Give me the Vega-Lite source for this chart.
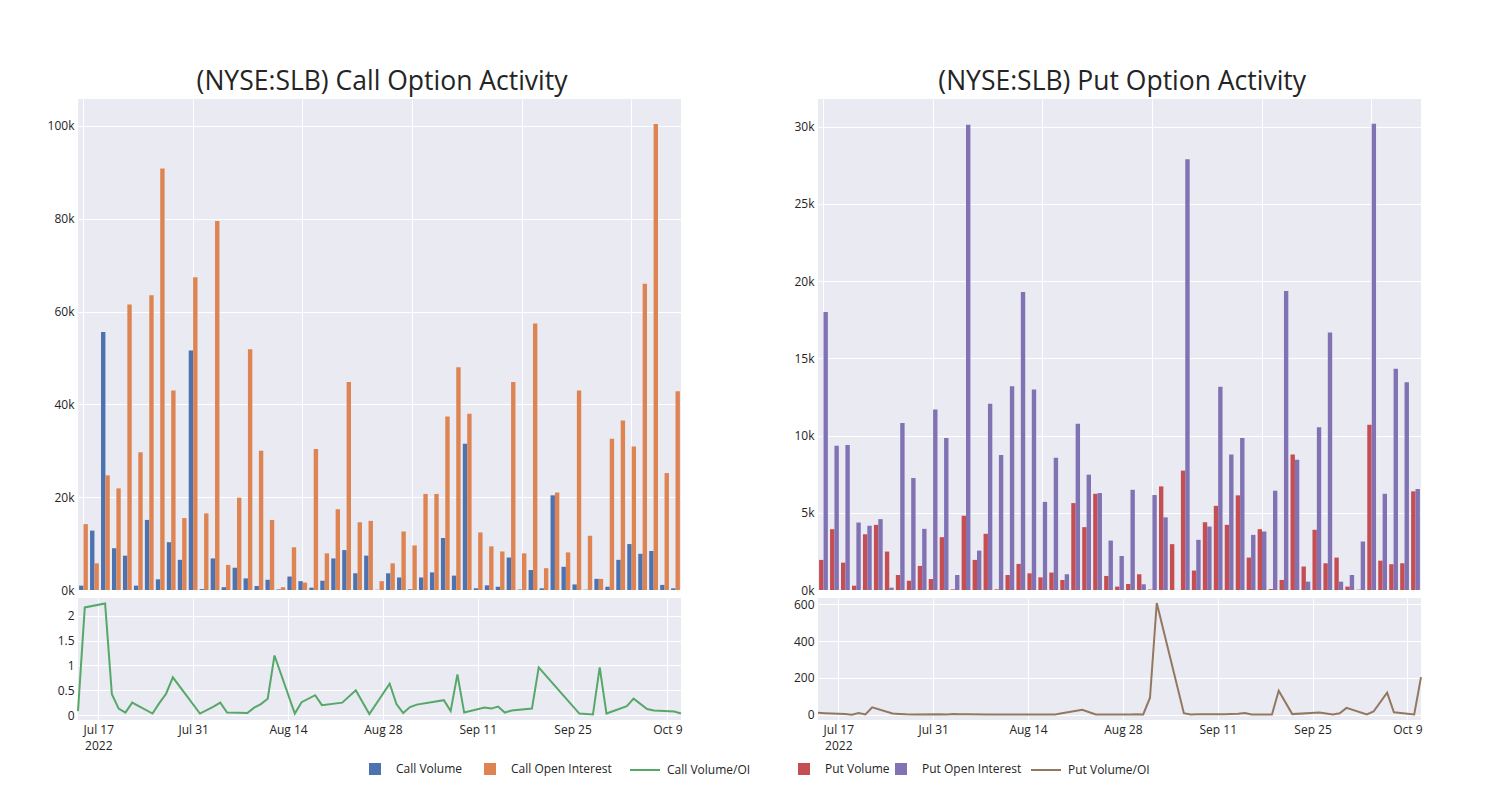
{
  "$schema": "https://vega.github.io/schema/vega-lite/v6.json",
  "background": "white",
  "padding": {"left": 47, "top": 68, "right": 0, "bottom": 0},
  "data": {"values": [
    {"date":"2022-07-14","t":"2022-07-14","Call Volume":940,"Call Open Interest":14200,"cr":0.08,"Put Volume":1950,"Put Open Interest":18000,"pr":10},
    {"date":"2022-07-15","t":"2022-07-15","Call Volume":12800,"Call Open Interest":5750,"cr":2.17,"Put Volume":3940,"Put Open Interest":9350,"pr":8},
    {"date":"2022-07-18","t":"2022-07-18","Call Volume":55600,"Call Open Interest":24700,"cr":2.25,"Put Volume":1770,"Put Open Interest":9390,"pr":3},
    {"date":"2022-07-19","t":"2022-07-19","Call Volume":9000,"Call Open Interest":21900,"cr":0.42,"Put Volume":280,"Put Open Interest":4370,"pr":0},
    {"date":"2022-07-20","t":"2022-07-20","Call Volume":7400,"Call Open Interest":61500,"cr":0.13,"Put Volume":3610,"Put Open Interest":4160,"pr":9},
    {"date":"2022-07-21","t":"2022-07-21","Call Volume":940,"Call Open Interest":29700,"cr":0.05,"Put Volume":4220,"Put Open Interest":4590,"pr":1},
    {"date":"2022-07-22","t":"2022-07-22","Call Volume":15100,"Call Open Interest":63500,"cr":0.25,"Put Volume":2490,"Put Open Interest":150,"pr":40},
    {"date":"2022-07-25","t":"2022-07-25","Call Volume":2300,"Call Open Interest":90800,"cr":0.03,"Put Volume":970,"Put Open Interest":10820,"pr":6},
    {"date":"2022-07-26","t":"2022-07-26","Call Volume":10300,"Call Open Interest":43000,"cr":0.24,"Put Volume":600,"Put Open Interest":7250,"pr":4},
    {"date":"2022-07-27","t":"2022-07-27","Call Volume":6500,"Call Open Interest":15500,"cr":0.43,"Put Volume":1560,"Put Open Interest":3960,"pr":2},
    {"date":"2022-07-28","t":"2022-07-28","Call Volume":51600,"Call Open Interest":67400,"cr":0.76,"Put Volume":710,"Put Open Interest":11690,"pr":1},
    {"date":"2022-08-01","t":"2022-08-01","Call Volume":200,"Call Open Interest":16500,"cr":0.03,"Put Volume":3420,"Put Open Interest":9850,"pr":2},
    {"date":"2022-08-02","t":"2022-08-02","Call Volume":6800,"Call Open Interest":79500,"cr":0.1,"Put Volume":40,"Put Open Interest":970,"pr":1},
    {"date":"2022-08-03","t":"2022-08-03","Call Volume":600,"Call Open Interest":5400,"cr":0.17,"Put Volume":4810,"Put Open Interest":30130,"pr":3},
    {"date":"2022-08-04","t":"2022-08-04","Call Volume":4800,"Call Open Interest":19900,"cr":0.25,"Put Volume":1950,"Put Open Interest":2550,"pr":2},
    {"date":"2022-08-05","t":"2022-08-05","Call Volume":2500,"Call Open Interest":51900,"cr":0.05,"Put Volume":3640,"Put Open Interest":12060,"pr":2},
    {"date":"2022-08-08","t":"2022-08-08","Call Volume":860,"Call Open Interest":30000,"cr":0.04,"Put Volume":40,"Put Open Interest":8740,"pr":1},
    {"date":"2022-08-09","t":"2022-08-09","Call Volume":2200,"Call Open Interest":15100,"cr":0.15,"Put Volume":970,"Put Open Interest":13200,"pr":1},
    {"date":"2022-08-10","t":"2022-08-10","Call Volume":130,"Call Open Interest":600,"cr":0.22,"Put Volume":1690,"Put Open Interest":19300,"pr":1},
    {"date":"2022-08-11","t":"2022-08-11","Call Volume":2900,"Call Open Interest":9200,"cr":0.33,"Put Volume":1080,"Put Open Interest":12990,"pr":1},
    {"date":"2022-08-12","t":"2022-08-12","Call Volume":1900,"Call Open Interest":1600,"cr":1.2,"Put Volume":820,"Put Open Interest":5710,"pr":1},
    {"date":"2022-08-15","t":"2022-08-15","Call Volume":500,"Call Open Interest":30400,"cr":0.03,"Put Volume":1130,"Put Open Interest":8570,"pr":1},
    {"date":"2022-08-16","t":"2022-08-16","Call Volume":2000,"Call Open Interest":7900,"cr":0.26,"Put Volume":650,"Put Open Interest":1020,"pr":1},
    {"date":"2022-08-18","t":"2022-08-18","Call Volume":6800,"Call Open Interest":17400,"cr":0.4,"Put Volume":5630,"Put Open Interest":10760,"pr":1},
    {"date":"2022-08-19","t":"2022-08-19","Call Volume":8600,"Call Open Interest":44800,"cr":0.2,"Put Volume":4070,"Put Open Interest":7470,"pr":8},
    {"date":"2022-08-22","t":"2022-08-22","Call Volume":3600,"Call Open Interest":14600,"cr":0.25,"Put Volume":6230,"Put Open Interest":6280,"pr":27},
    {"date":"2022-08-24","t":"2022-08-24","Call Volume":7400,"Call Open Interest":14900,"cr":0.5,"Put Volume":910,"Put Open Interest":3200,"pr":1},
    {"date":"2022-08-26","t":"2022-08-26","Call Volume":40,"Call Open Interest":1900,"cr":0.02,"Put Volume":220,"Put Open Interest":2200,"pr":1},
    {"date":"2022-08-29","t":"2022-08-29","Call Volume":3600,"Call Open Interest":5750,"cr":0.63,"Put Volume":390,"Put Open Interest":6490,"pr":1},
    {"date":"2022-08-30","t":"2022-08-30","Call Volume":2700,"Call Open Interest":12600,"cr":0.22,"Put Volume":1020,"Put Open Interest":370,"pr":2},
    {"date":"2022-08-31","t":"2022-08-31","Call Volume":150,"Call Open Interest":9600,"cr":0.04,"Put Volume":30,"Put Open Interest":6150,"pr":1},
    {"date":"2022-09-01","t":"2022-09-01","Call Volume":2700,"Call Open Interest":20700,"cr":0.16,"Put Volume":6710,"Put Open Interest":4700,"pr":92},
    {"date":"2022-09-02","t":"2022-09-02","Call Volume":3800,"Call Open Interest":20700,"cr":0.21,"Put Volume":2970,"Put Open Interest":5,"pr":607},
    {"date":"2022-09-06","t":"2022-09-06","Call Volume":11200,"Call Open Interest":37400,"cr":0.3,"Put Volume":7730,"Put Open Interest":27900,"pr":8},
    {"date":"2022-09-07","t":"2022-09-07","Call Volume":3100,"Call Open Interest":48000,"cr":0.08,"Put Volume":1260,"Put Open Interest":3250,"pr":1},
    {"date":"2022-09-08","t":"2022-09-08","Call Volume":31500,"Call Open Interest":38000,"cr":0.82,"Put Volume":4390,"Put Open Interest":4110,"pr":2},
    {"date":"2022-09-09","t":"2022-09-09","Call Volume":360,"Call Open Interest":12400,"cr":0.05,"Put Volume":5450,"Put Open Interest":13160,"pr":2},
    {"date":"2022-09-12","t":"2022-09-12","Call Volume":1000,"Call Open Interest":9400,"cr":0.15,"Put Volume":4220,"Put Open Interest":8770,"pr":2},
    {"date":"2022-09-13","t":"2022-09-13","Call Volume":700,"Call Open Interest":8300,"cr":0.13,"Put Volume":6130,"Put Open Interest":9850,"pr":4},
    {"date":"2022-09-14","t":"2022-09-14","Call Volume":7000,"Call Open Interest":44800,"cr":0.17,"Put Volume":2100,"Put Open Interest":3570,"pr":5},
    {"date":"2022-09-15","t":"2022-09-15","Call Volume":100,"Call Open Interest":7900,"cr":0.05,"Put Volume":3940,"Put Open Interest":3790,"pr":9},
    {"date":"2022-09-16","t":"2022-09-16","Call Volume":4300,"Call Open Interest":57400,"cr":0.09,"Put Volume":60,"Put Open Interest":6430,"pr":1},
    {"date":"2022-09-19","t":"2022-09-19","Call Volume":360,"Call Open Interest":4700,"cr":0.13,"Put Volume":650,"Put Open Interest":19370,"pr":1},
    {"date":"2022-09-20","t":"2022-09-20","Call Volume":20400,"Call Open Interest":21000,"cr":0.96,"Put Volume":8770,"Put Open Interest":8440,"pr":130},
    {"date":"2022-09-22","t":"2022-09-22","Call Volume":5000,"Call Open Interest":8100,"cr":0.65,"Put Volume":1520,"Put Open Interest":540,"pr":3},
    {"date":"2022-09-26","t":"2022-09-26","Call Volume":1200,"Call Open Interest":43000,"cr":0.03,"Put Volume":3900,"Put Open Interest":10540,"pr":12},
    {"date":"2022-09-28","t":"2022-09-28","Call Volume":50,"Call Open Interest":11700,"cr":0.01,"Put Volume":1730,"Put Open Interest":16670,"pr":1},
    {"date":"2022-09-29","t":"2022-09-29","Call Volume":2400,"Call Open Interest":2400,"cr":0.96,"Put Volume":2100,"Put Open Interest":540,"pr":8},
    {"date":"2022-09-30","t":"2022-09-30","Call Volume":700,"Call Open Interest":32600,"cr":0.03,"Put Volume":220,"Put Open Interest":970,"pr":37},
    {"date":"2022-10-03","t":"2022-10-03","Call Volume":6500,"Call Open Interest":36500,"cr":0.18,"Put Volume":20,"Put Open Interest":3140,"pr":1},
    {"date":"2022-10-04","t":"2022-10-04","Call Volume":9900,"Call Open Interest":30900,"cr":0.33,"Put Volume":10710,"Put Open Interest":30190,"pr":17},
    {"date":"2022-10-06","t":"2022-10-06","Call Volume":7800,"Call Open Interest":66000,"cr":0.12,"Put Volume":1900,"Put Open Interest":6230,"pr":119},
    {"date":"2022-10-07","t":"2022-10-07","Call Volume":8400,"Call Open Interest":100400,"cr":0.09,"Put Volume":1670,"Put Open Interest":14330,"pr":13},
    {"date":"2022-10-10","t":"2022-10-10","Call Volume":1100,"Call Open Interest":25200,"cr":0.07,"Put Volume":1730,"Put Open Interest":13460,"pr":1},
    {"date":"2022-10-11","t":"2022-10-11","Call Volume":360,"Call Open Interest":42800,"cr":0.03,"Put Volume":6390,"Put Open Interest":6540,"pr":204}
  ]},
  "hconcat": [
    {
      "title": {"text": "(NYSE:SLB) Call Option Activity", "dx": 16},
      "spacing": 2,
      "vconcat": [
        {
          "width": 603, "height": 491,
          "transform": [{"fold": ["Call Volume", "Call Open Interest"], "as": ["series", "value"]}],
          "mark": {"type": "bar"},
          "encoding": {
            "x": {"field": "date", "type": "ordinal", "scale": {"paddingInner": 0.2, "paddingOuter": 0.1},
                  "axis": {"labels": false, "grid": true, "bandPosition": 0.5, "title": null,
                           "values": ["2022-07-14","2022-07-28","2022-08-12","2022-08-31","2022-09-15","2022-10-04"]}},
            "xOffset": {"field": "series", "type": "nominal", "scale": {"domain": ["Call Volume", "Call Open Interest"], "paddingInner": 0, "paddingOuter": 0}},
            "y": {"field": "value", "type": "quantitative", "scale": {"domain": [0, 105800], "nice": false},
                  "axis": {"values": [0, 20000, 40000, 60000, 80000, 100000], "format": "~s", "title": null}},
            "color": {"field": "series", "type": "nominal",
              "scale": {"domain": ["Call Volume", "Call Open Interest"], "range": ["#4C72B0", "#DD8452"]},
              "legend": {"orient": "none", "legendX": 290, "legendY": 663, "direction": "horizontal", "columns": 2,
                         "title": null, "symbolType": "square", "symbolSize": 144, "labelOffset": 14, "columnPadding": 20,
                         "labelFont": "Open Sans", "labelFontSize": 12, "labelColor": "#242424", "symbolOpacity": 1}}
          }
        },
        {
          "width": 603, "height": 122,
          "mark": {"type": "line", "strokeWidth": 2},
          "encoding": {
            "x": {"field": "t", "type": "temporal",
                  "scale": {"type": "utc", "domain": [{"year": 2022, "month": 7, "date": 14, "utc": true}, {"year": 2022, "month": 10, "date": 11, "utc": true}]},
                  "axis": {"title": null, "grid": true, "labelFlush": false,
                           "values": [{"year": 2022, "month": 7, "date": 17, "utc": true}, {"year": 2022, "month": 7, "date": 31, "utc": true}, {"year": 2022, "month": 8, "date": 14, "utc": true}, {"year": 2022, "month": 8, "date": 28, "utc": true}, {"year": 2022, "month": 9, "date": 11, "utc": true}, {"year": 2022, "month": 9, "date": 25, "utc": true}, {"year": 2022, "month": 10, "date": 9, "utc": true}],
                           "labelExpr": "utcFormat(datum.value, '%b %d') == 'Jul 17' ? ['Jul 17', '2022'] : utcFormat(datum.value, '%b %-d')"}},
            "y": {"field": "cr", "type": "quantitative", "scale": {"domain": [-0.1, 2.36], "nice": false},
                  "axis": {"values": [0, 0.5, 1, 1.5, 2], "format": "~g", "title": null}},
            "stroke": {"datum": "Call Volume/OI",
              "scale": {"domain": ["Call Volume/OI", "Put Volume/OI"], "range": ["#55A868", "#937860"]},
              "legend": {"orient": "none", "legendX": 551, "legendY": 655, "direction": "horizontal", "columns": 2,
                         "title": null, "symbolType": "stroke", "symbolSize": 900, "symbolStrokeWidth": 2, "labelOffset": 6, "columnPadding": 276,
                         "labelFont": "Open Sans", "labelFontSize": 12, "labelColor": "#242424"}}
          }
        }
      ]
    },
    {
      "title": {"text": "(NYSE:SLB) Put Option Activity", "dx": 13},
      "spacing": 2,
      "vconcat": [
        {
          "width": 603, "height": 491,
          "transform": [{"fold": ["Put Volume", "Put Open Interest"], "as": ["series", "value"]}],
          "mark": {"type": "bar"},
          "encoding": {
            "x": {"field": "date", "type": "ordinal", "scale": {"paddingInner": 0.2, "paddingOuter": 0.1},
                  "axis": {"labels": false, "grid": true, "bandPosition": 0.5, "title": null,
                           "values": ["2022-07-14","2022-07-28","2022-08-12","2022-08-31","2022-09-15","2022-10-04"]}},
            "xOffset": {"field": "series", "type": "nominal", "scale": {"domain": ["Put Volume", "Put Open Interest"], "paddingInner": 0, "paddingOuter": 0}},
            "y": {"field": "value", "type": "quantitative", "scale": {"domain": [0, 31800], "nice": false},
                  "axis": {"values": [0, 5000, 10000, 15000, 20000, 25000, 30000], "format": "~s", "title": null}},
            "fill": {"field": "series", "type": "nominal",
              "scale": {"domain": ["Put Volume", "Put Open Interest"], "range": ["#C44E52", "#8172B3"]},
              "legend": {"orient": "none", "legendX": 719, "legendY": 663, "direction": "horizontal", "columns": 2,
                         "title": null, "symbolType": "square", "symbolSize": 144, "labelOffset": 14, "columnPadding": 4,
                         "labelFont": "Open Sans", "labelFontSize": 12, "labelColor": "#242424", "symbolOpacity": 1}}
          }
        },
        {
          "width": 603, "height": 122,
          "mark": {"type": "line", "strokeWidth": 2},
          "encoding": {
            "x": {"field": "t", "type": "temporal",
                  "scale": {"type": "utc", "domain": [{"year": 2022, "month": 7, "date": 14, "utc": true}, {"year": 2022, "month": 10, "date": 11, "utc": true}]},
                  "axis": {"title": null, "grid": true, "labelFlush": false,
                           "values": [{"year": 2022, "month": 7, "date": 17, "utc": true}, {"year": 2022, "month": 7, "date": 31, "utc": true}, {"year": 2022, "month": 8, "date": 14, "utc": true}, {"year": 2022, "month": 8, "date": 28, "utc": true}, {"year": 2022, "month": 9, "date": 11, "utc": true}, {"year": 2022, "month": 9, "date": 25, "utc": true}, {"year": 2022, "month": 10, "date": 9, "utc": true}],
                           "labelExpr": "utcFormat(datum.value, '%b %d') == 'Jul 17' ? ['Jul 17', '2022'] : utcFormat(datum.value, '%b %-d')"}},
            "y": {"field": "pr", "type": "quantitative", "scale": {"domain": [-29, 634], "nice": false},
                  "axis": {"values": [0, 200, 400, 600], "title": null}},
            "stroke": {"datum": "Put Volume/OI", "legend": null}
          }
        }
      ]
    }
  ],
  "spacing": 108,
  "resolve": {"scale": {"xOffset": "independent"}},
  "config": {
    "font": "Open Sans",
    "view": {"fill": "#EAEAF2", "stroke": null},
    "axis": {"gridColor": "white", "gridWidth": 1, "domain": false, "ticks": false, "tickSize": 0,
             "labelFont": "Open Sans", "labelFontSize": 12, "labelColor": "#242424", "labelPadding": 4, "labelLineHeight": 16},
    "title": {"font": "Open Sans", "fontSize": 26.5, "fontWeight": "normal", "color": "#242424", "anchor": "middle", "frame": "bounds", "offset": 0}
  }
}
